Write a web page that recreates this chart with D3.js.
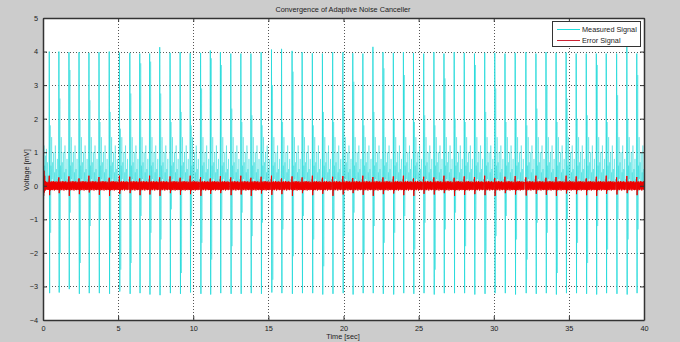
<!DOCTYPE html>
<html><head><meta charset="utf-8">
<script src="https://cdn.jsdelivr.net/npm/d3@7/dist/d3.min.js"></script>
<style>
html,body{margin:0;padding:0;background:#cccccc;}
svg{display:block;}
text{font-family:"Liberation Sans",Arial,sans-serif;fill:#222;}
</style></head>
<body>
<svg id="chart" width="680" height="342"></svg>
<script>
// ---- data ----
const xTicks = [0, 5, 10, 15, 20, 25, 30, 35, 40];
const yTicks = [-4, -3, -2, -1, 0, 1, 2, 3, 4, 5];
const beatTimes = [0.42, 1.06, 1.73, 2.40, 3.06, 3.73, 4.41, 5.09, 5.78, 6.44, 7.10, 7.77, 8.46, 9.13, 9.80, 10.49, 11.14, 11.81, 12.50, 13.17, 13.84, 14.52, 15.21, 15.88, 16.58, 17.25, 17.93, 18.60, 19.28, 19.96, 20.62, 21.29, 21.96, 22.63, 23.32, 23.99, 24.66, 25.34, 26.02, 26.69, 27.37, 28.04, 28.72, 29.40, 30.07, 30.75, 31.43, 32.14, 32.81, 33.48, 34.15, 34.82, 35.49, 36.16, 36.83, 37.49, 38.18, 38.86, 39.52];
const beatPeaks = [4.0, 4.0, 3.98, 3.98, 3.96, 3.98, 4.0, 3.97, 3.96, 3.94, 3.94, 4.13, 3.96, 3.98, 3.95, 3.96, 4.03, 3.98, 3.94, 3.94, 3.94, 3.98, 4.06, 4.08, 4.02, 3.98, 3.95, 3.94, 3.98, 3.98, 3.95, 3.94, 4.14, 3.98, 3.96, 3.98, 3.96, 3.94, 3.98, 3.94, 3.98, 3.96, 3.94, 3.96, 3.96, 3.94, 3.96, 3.98, 3.94, 3.98, 3.96, 3.97, 3.94, 3.94, 3.94, 3.94, 3.94, 4.14, 3.94];
const beatTroughs = [-3.2, -3.18, -3.08, -3.22, -3.2, -3.2, -3.22, -3.15, -3.22, -3.2, -3.24, -3.26, -3.2, -3.22, -3.18, -3.22, -3.24, -3.2, -3.22, -3.22, -3.2, -3.22, -3.18, -3.2, -3.22, -3.2, -3.2, -3.24, -3.22, -3.2, -3.24, -3.2, -3.2, -3.22, -3.24, -3.2, -3.22, -3.2, -3.24, -3.2, -3.2, -3.2, -3.24, -3.22, -3.2, -3.2, -3.24, -3.2, -3.22, -3.2, -3.24, -3.2, -3.2, -3.22, -3.24, -3.2, -3.22, -3.24, -3.2];
const secondPeaks = [1.8, 2.6, 3.45, 2.0, 2.55, 1.9, 2.2, 1.7, 2.75, 3.65, 3.7, 2.75, 1.9, 2.2, 1.8, 2.9, 3.8, 3.6, 2.3, 1.9, 2.1, 1.8, 3.0, 1.9, 3.4, 2.0, 1.8, 2.2, 1.9, 2.3, 3.1, 1.8, 2.2, 3.5, 2.0, 3.3, 1.9, 2.1, 1.8, 3.2, 2.0, 1.9, 3.6, 2.2, 2.9, 1.9, 2.0, 1.8, 2.3, 3.0, 1.9, 2.6, 2.0, 2.1, 3.6, 1.9, 2.7, 2.0, 3.3];
const secondTroughs = [-1.4, -2.0, -0.8, -2.3, -1.2, -1.0, -2.0, -2.5, -2.3, -0.9, -1.4, -1.6, -0.7, -2.6, -1.2, -1.7, -2.2, -1.0, -1.8, -0.8, -1.5, -1.1, -2.8, -1.3, -2.1, -0.9, -1.6, -2.4, -1.0, -1.5, -0.8, -2.0, -1.2, -1.7, -1.4, -0.9, -1.9, -1.1, -2.5, -1.3, -0.8, -1.8, -1.0, -2.0, -1.5, -0.9, -1.6, -2.2, -1.1, -1.4, -2.6, -1.0, -1.7, -2.3, -1.2, -1.9, -1.0, -1.6, -1.3];
// one heartbeat cycle of the measured signal (null = per-beat value)
const waveShape = [0.2, 0.0, 0.5, null, null, 0.3, null, null, 0.6, 0.1, 1.45, 0.2, 0.3, 0.7, 0.1, 0.0, 1.0, 0.2, 0.1, 0.4, 0.0, 1.2, 0.2, 0.1, 0.5, 0.0, 0.2, 0.8, 0.1, -0.1];
const measuredStart = [0.0, 1.75, -0.4, 1.2, 0.1, 0.6, 0.0, 0.9, 0.2, 0.1, 1.1, 0.2, 0.0, 0.7, 0.1, 0.3];
// one heartbeat cycle of the error signal (null = per-beat spike)
const errorShape = [0.1, -0.12, 0.14, null, null, 0.12, -0.14, 0.1, -0.1, 0.13, -0.12, 0.09, -0.13, 0.12, -0.08, 0.14, -0.11, 0.1, -0.14, 0.12, -0.09, 0.11, -0.12, 0.13, -0.1, 0.08, -0.13, 0.12, -0.11, 0.09];
const errorStart = [0.0, 0.72, -0.3, 0.45, -0.2, 0.3, -0.15, 0.14, -0.12, 0.12, -0.1, 0.11, -0.12, 0.09, -0.11, 0.12];
const errorSpikesUp = [0.3, 0.25, 0.28, 0.22, 0.3, 0.26, 0.24, 0.3, 0.27, 0.22, 0.3, 0.25, 0.28, 0.24, 0.3, 0.26, 0.22, 0.29, 0.25, 0.3, 0.24, 0.27, 0.3, 0.22, 0.28, 0.25, 0.3, 0.24, 0.27, 0.29, 0.23, 0.3, 0.26, 0.25, 0.28, 0.3, 0.22, 0.27, 0.25, 0.3, 0.24, 0.28, 0.26, 0.3, 0.23, 0.27, 0.29, 0.25, 0.3, 0.24, 0.26, 0.3, 0.28, 0.22, 0.27, 0.3, 0.25, 0.29, 0.26];
const errorSpikesDown = [-0.28, -0.22, -0.3, -0.25, -0.2, -0.27, -0.3, -0.24, -0.22, -0.28, -0.26, -0.3, -0.22, -0.27, -0.25, -0.3, -0.24, -0.22, -0.28, -0.26, -0.3, -0.23, -0.27, -0.25, -0.3, -0.22, -0.28, -0.24, -0.3, -0.26, -0.22, -0.27, -0.3, -0.25, -0.23, -0.28, -0.3, -0.24, -0.26, -0.22, -0.3, -0.27, -0.25, -0.28, -0.3, -0.22, -0.26, -0.29, -0.24, -0.27, -0.3, -0.23, -0.25, -0.28, -0.3, -0.24, -0.26, -0.22, -0.28];
const sampleStep = 0.0225;   // seconds between template samples
const cycleOffset = -0.07;   // template start relative to the beat

// ---- build series ----
const measured = [];
const errorSig = [];
measuredStart.forEach((v, i) => measured.push([i * sampleStep, v]));
errorStart.forEach((v, i) => errorSig.push([i * sampleStep, v]));
beatTimes.forEach((bt, b) => {
  waveShape.forEach((v, k) => {
    let val = v;
    if (k === 3) val = beatPeaks[b];
    if (k === 4) val = beatTroughs[b];
    if (k === 6) val = secondPeaks[b];
    if (k === 7) val = secondTroughs[b];
    measured.push([bt + cycleOffset + k * sampleStep, val]);
  });
  errorShape.forEach((v, k) => {
    let val = v;
    if (k === 3) val = errorSpikesUp[b];
    if (k === 4) val = errorSpikesDown[b];
    errorSig.push([bt + cycleOffset + k * sampleStep, val]);
  });
});
measured.sort((a, b) => a[0] - b[0]);
errorSig.sort((a, b) => a[0] - b[0]);

// ---- chart ----
const FS = 7.3;
const CYAN = "#2cdcdc";
const svg = d3.select("#chart");
const L = 43, R = 644, T = 18, B = 320;
const x = d3.scaleLinear().domain([0, 40]).range([L, R]);
const y = d3.scaleLinear().domain([-4, 5]).range([B, T]);

svg.append("rect").attr("x", L).attr("y", T).attr("width", R - L).attr("height", B - T).attr("fill", "#ffffff");

// grid
const grid = svg.append("g");
grid.selectAll(".gx").data(xTicks.slice(1, -1)).join("line")
  .attr("x1", d => Math.round(x(d)) + 0.5).attr("x2", d => Math.round(x(d)) + 0.5)
  .attr("y1", T).attr("y2", B)
  .attr("stroke", "#555").attr("stroke-width", 1).attr("stroke-dasharray", "1,2");
grid.selectAll(".gy").data(yTicks.slice(1, -1)).join("line")
  .attr("y1", d => Math.round(y(d)) + 0.5).attr("y2", d => Math.round(y(d)) + 0.5)
  .attr("x1", L).attr("x2", R)
  .attr("stroke", "#555").attr("stroke-width", 1).attr("stroke-dasharray", "1,2");

svg.append("clipPath").attr("id", "clip").append("rect")
  .attr("x", L).attr("y", T).attr("width", R - L).attr("height", B - T);

const plot = svg.append("g").attr("clip-path", "url(#clip)");
const line = d3.line().x(d => x(d[0])).y(d => y(d[1]));
plot.append("path").datum(measured)
  .attr("d", line).attr("fill", "none").attr("stroke", CYAN).attr("stroke-width", 0.45);
// the QRS spikes of the measured signal, drawn a little heavier
plot.selectAll(".qrs").data(beatTimes).join("line")
  .attr("x1", (d) => x(d + cycleOffset + 3 * sampleStep))
  .attr("x2", (d) => x(d + cycleOffset + 4 * sampleStep))
  .attr("y1", (d, i) => y(beatPeaks[i]))
  .attr("y2", (d, i) => y(beatTroughs[i]))
  .attr("stroke", CYAN).attr("stroke-width", 1);
plot.append("path").datum(errorSig)
  .attr("d", line).attr("fill", "none").attr("stroke", "#ee0000").attr("stroke-width", 1);

// axes (MATLAB style, inward ticks, box)
const xAxisB = d3.axisBottom(x).tickValues(xTicks).tickSizeInner(-4).tickSizeOuter(0).tickPadding(6);
const xAxisT = d3.axisTop(x).tickValues(xTicks).tickSizeInner(-4).tickSizeOuter(0).tickFormat("");
const yAxisL = d3.axisLeft(y).tickValues(yTicks).tickSizeInner(-4).tickSizeOuter(0).tickPadding(5);
const yAxisR = d3.axisRight(y).tickValues(yTicks).tickSizeInner(-4).tickSizeOuter(0).tickFormat("");

function style(g) {
  g.selectAll("path").attr("stroke", "#333").attr("stroke-width", 1.5);
  g.selectAll("line").attr("stroke", "#333");
  g.selectAll("text").attr("font-size", FS).attr("fill", "#222").attr("font-family", "Liberation Sans, Arial, sans-serif");
}
svg.append("g").attr("transform", `translate(0,${B})`).call(xAxisB).call(style);
svg.append("g").attr("transform", `translate(0,${T})`).call(xAxisT).call(style);
svg.append("g").attr("transform", `translate(${L},0)`).call(yAxisL).call(style);
svg.append("g").attr("transform", `translate(${R},0)`).call(yAxisR).call(style);

// titles
svg.append("text").attr("x", 343).attr("y", 12).attr("text-anchor", "middle")
  .attr("font-size", FS).text("Convergence of Adaptive Noise Canceller");
svg.append("text").attr("x", 343).attr("y", 339).attr("text-anchor", "middle")
  .attr("font-size", FS).text("Time [sec]");
svg.append("text").attr("transform", "translate(29,170) rotate(-90)").attr("text-anchor", "middle")
  .attr("font-size", FS).text("Voltage [mV]");

// legend
const lg = svg.append("g");
lg.append("rect").attr("x", 552.5).attr("y", 21.5).attr("width", 88).attr("height", 25)
  .attr("fill", "#fff").attr("stroke", "#333").attr("stroke-width", 1);
const legendItems = [["Measured Signal", "#20dede"], ["Error Signal", "#cc2233"]];
legendItems.forEach((d, i) => {
  const yy = 29.5 + i * 11;
  lg.append("line").attr("x1", 557).attr("x2", 580).attr("y1", yy).attr("y2", yy)
    .attr("stroke", d[1]).attr("stroke-width", 1);
  lg.append("text").attr("x", 582).attr("y", yy + 2.7).attr("font-size", FS).attr("fill", "#222").text(d[0]);
});
</script>
</body></html>
